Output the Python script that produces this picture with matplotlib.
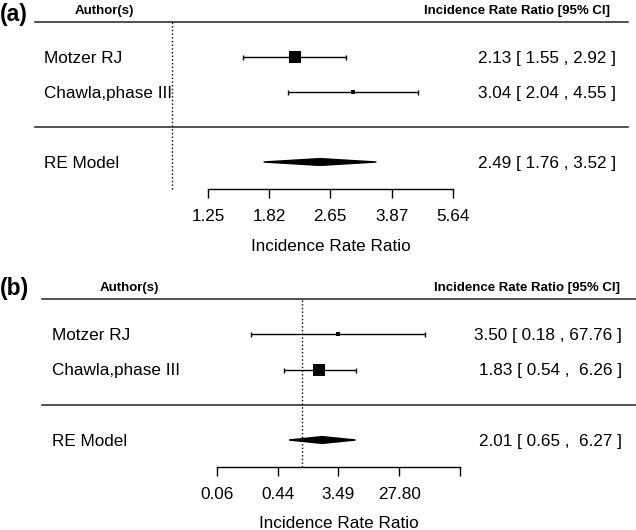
import numpy as np
import matplotlib.pyplot as plt
from matplotlib.ticker import NullLocator

plt.rcParams['font.family'] = ['Liberation Sans', 'DejaVu Sans']

W, H = 636, 530

studies = ["Motzer RJ", "Chawla,phase III"]

# panel (a)
irr_a = [2.13, 3.04]
lo_a = [1.55, 2.04]
hi_a = [2.92, 4.55]
re_a = [2.49, 1.76, 3.52]   # estimate, lower, upper
ticks_a = [1.25, 1.82, 2.65, 3.87, 5.64]
tick_labels_a = ["1.25", "1.82", "2.65", "3.87", "5.64"]

# panel (b)
irr_b = [3.50, 1.83]
lo_b = [0.18, 0.54]
hi_b = [67.76, 6.26]
re_b = [2.01, 0.65, 6.27]
ticks_b = [0.0556, 0.44, 3.49, 27.80, 221.0]
tick_labels_b = ["0.06", "0.44", "3.49", "27.80", ""]

# layout in pixels of the 636x530 picture
lay_a = dict(panel=(0, 265), tick_px=(208, 453), row_px=(22, 162), axis_px=189,
             line_px=(35, 628), label_px=44, num_px=616, head=(75, 610, 9.5),
             xlab_px=245, tag_px=(0, 14))
lay_b = dict(panel=(265, 530), tick_px=(217, 460), row_px=(299, 440), axis_px=467,
             line_px=(42, 636), label_px=52, num_px=622, head=(100, 620, 287),
             xlab_px=522, tag_px=(0, 288))

FS = 12.3


def fmt_col(vals):
    s = ["%.2f" % v for v in vals]
    w = max(len(x) for x in s)
    return [x.rjust(w) for x in s]


def forest(fig, tag, irr, lo, hi, re, ticks, tick_labels, lay):
    top, bot = lay["panel"]
    ax = fig.add_axes([0, 1 - bot / H, 1, (bot - top) / H])
    ax.patch.set_alpha(0)

    # pixel layout -> data limits
    t0, t1 = np.log(ticks[0]), np.log(ticks[-1])
    x0, x1 = lay["tick_px"]
    ppx = (x1 - x0) / (t1 - t0)
    ax.set_xscale("log")
    ax.set_xlim(np.exp(t0 - x0 / ppx), np.exp(t0 + (W - x0) / ppx))
    yh, yr = lay["row_px"]
    ppy = (yr - yh) / 4.0
    ax.set_ylim(1 - (bot - yr) / ppy, 5 + (yh - top) / ppy)

    def ypx(p):
        return 1 - (p - yr) / ppy

    trans = ax.get_yaxis_transform()
    irr, lo, hi = np.array(irr), np.array(lo), np.array(hi)
    ys = 4 - np.arange(len(irr))

    # square sizes from inverse standard errors (metafor style)
    se = (np.log(hi) - np.log(lo)) / 3.92
    wi = 1 / se
    wi = wi / wi.sum()
    psize = (wi - wi.min()) / (wi.max() - wi.min()) + 0.5

    axis_y = ypx(lay["axis_px"])
    ax.plot([1, 1], [axis_y, 5], ls=":", color="black", lw=1)

    ax.errorbar(irr, ys, xerr=[irr - lo, hi - irr], fmt="none", ecolor="black",
                elinewidth=1, capsize=1.8, capthick=1)
    for x, y, p in zip(irr, ys, psize):
        ax.plot(x, y, marker="s", color="black", ms=p * 7.6 * 0.72, mew=0)

    # summary diamond
    d = 3.4 / ppy
    ax.fill([re[1], re[0], re[2], re[0]], [1, 1 + d, 1, 1 - d],
            facecolor="black", edgecolor="black", lw=1)

    l, r = lay["line_px"]
    ax.axhline(5, xmin=l / W, xmax=r / W, color="#222222", lw=1.1)
    ax.axhline(2, xmin=l / W, xmax=r / W, color="#222222", lw=1.1)

    # text columns
    est_s = fmt_col(list(irr) + [re[0]])
    lo_s = fmt_col(list(lo) + [re[1]])
    hi_s = fmt_col(list(hi) + [re[2]])
    names = studies + ["RE Model"]
    rows = list(ys) + [1]
    for name, y, e, a, b in zip(names, rows, est_s, lo_s, hi_s):
        ax.text(lay["label_px"] / W, y, name, transform=trans, fontsize=FS,
                ha="left", va="center_baseline")
        ax.text(lay["num_px"] / W, y, "%s [ %s , %s ]" % (e, a, b), transform=trans,
                fontsize=FS, ha="right", va="center_baseline")

    hx0, hx1, hy = lay["head"]
    ax.text(hx0 / W, ypx(hy), "Author(s)", transform=trans, fontsize=9.5,
            fontweight="bold", ha="left", va="center_baseline")
    ax.text(hx1 / W, ypx(hy), "Incidence Rate Ratio [95% CI]", transform=trans,
            fontsize=9.5, fontweight="bold", ha="right", va="center_baseline")

    # bottom axis, R style
    for s in ["top", "left", "right"]:
        ax.spines[s].set_visible(False)
    ax.spines["bottom"].set_position(("data", axis_y))
    ax.spines["bottom"].set_bounds(ticks[0], ticks[-1])
    ax.spines["bottom"].set_linewidth(1)
    ax.set_xticks(ticks)
    ax.set_xticklabels(tick_labels)
    ax.xaxis.set_minor_locator(NullLocator())
    ax.tick_params(axis="x", direction="out", length=6.5, width=1, pad=8,
                   labelsize=FS)
    ax.set_yticks([])
    ax.text(np.sqrt(ticks[0] * ticks[-1]), ypx(lay["xlab_px"]), "Incidence Rate Ratio",
            fontsize=FS, ha="center", va="center_baseline")

    tx, ty = lay["tag_px"]
    fig.text(tx / W, 1 - ty / H, tag, fontsize=16.5, fontweight="bold",
             ha="left", va="center")
    return ax


fig = plt.figure(figsize=(W / 100, H / 100), dpi=100)
forest(fig, "(a)", irr_a, lo_a, hi_a, re_a, ticks_a, tick_labels_a, lay_a)
forest(fig, "(b)", irr_b, lo_b, hi_b, re_b, ticks_b, tick_labels_b, lay_b)
fig.savefig("out.png", dpi=100)
